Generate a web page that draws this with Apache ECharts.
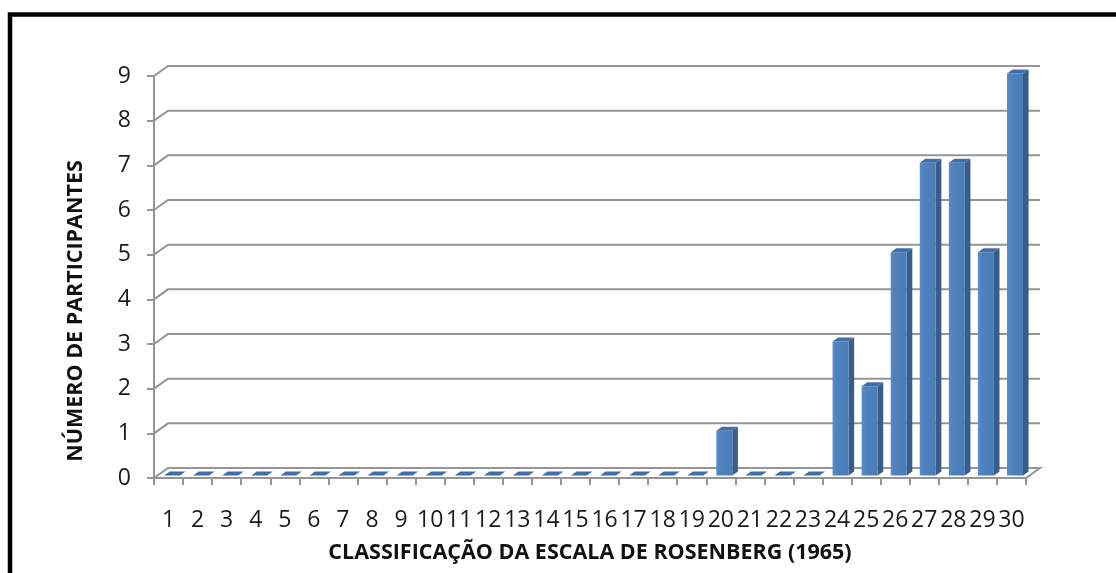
<!DOCTYPE html>
<html>
<head>
<meta charset="utf-8">
<title>Escala de Rosenberg</title>
<script src="https://cdn.jsdelivr.net/npm/echarts@6/dist/echarts.min.js"></script>
<style>
  html, body { margin: 0; padding: 0; background: #ffffff; }
  #chart { width: 1116px; height: 573px; }
</style>
</head>
<body>
<div id="chart"></div>
<script>
// Scores on the Rosenberg scale (1..30) and how many participants got each one
const categories = ['1','2','3','4','5','6','7','8','9','10','11','12','13','14','15',
                    '16','17','18','19','20','21','22','23','24','25','26','27','28','29','30'];
const participants = [0,0,0,0,0,0,0,0,0,0,0,0,0,0,0,0,0,0,0,1,0,0,0,3,2,5,7,7,5,9];
const yTicks = [0,1,2,3,4,5,6,7,8,9];

const xTitle = 'CLASSIFICAÇÃO DA ESCALA DE ROSENBERG (1965)';
const yTitle = 'NÚMERO DE PARTICIPANTES';

// depth of the pseudo-3D floor / back wall, in pixels
const DX = 14, DY = 10;
const GRID_COLOR = '#959595';
const FONT = '"Open Sans", "Liberation Sans", sans-serif';

const chart = echarts.init(document.getElementById('chart'), null, { renderer: 'canvas' });

// back-wall gridlines with their side-wall diagonals, plus the floor
function renderWall(params, api) {
  const cs = params.coordSys;
  const v = api.value(1);
  const y = api.coord([0, v])[1];
  const x0 = cs.x, x1 = cs.x + cs.width;
  if (v === 0) {
    return {
      type: 'polygon',
      shape: { points: [[x0, y], [x0 + DX, y - DY], [x1 + DX, y - DY], [x1, y]] },
      style: { fill: '#ffffff', stroke: GRID_COLOR, lineWidth: 2 }
    };
  }
  return {
    type: 'polyline',
    shape: { points: [[x0, y], [x0 + DX, y - DY], [x1 + DX, y - DY]] },
    style: { fill: null, stroke: GRID_COLOR, lineWidth: 2 }
  };
}

// one 3D column: front face, right side and top
function renderColumn(params, api) {
  const idx = api.value(0);
  const val = api.value(1);
  const base = api.coord([idx, 0]);
  const top = api.coord([idx, val]);
  const w = api.size([1, 0])[0] * 0.55;
  const f1 = 0.25, f2 = 0.65;
  const ox = DX * f1, oy = -DY * f1;
  const ddx = DX * (f2 - f1), ddy = -DY * (f2 - f1);
  const xl = base[0] - w / 2 + ox, xr = xl + w;
  const yb = base[1] + oy, yt = top[1] + oy;
  const children = [];
  if (yb - yt > 0.5) {
    children.push({
      type: 'polygon',
      shape: { points: [[xr, yt], [xr + ddx, yt + ddy], [xr + ddx, yb + ddy], [xr, yb]] },
      style: { fill: '#385D8A' }
    });
    children.push({
      type: 'rect',
      shape: { x: xl, y: yt, width: w, height: yb - yt },
      style: {
        fill: new echarts.graphic.LinearGradient(0, 0, 1, 0, [
          { offset: 0, color: '#5B8DCA' },
          { offset: 0.25, color: '#4F81BD' },
          { offset: 1, color: '#4A7CB8' }
        ])
      }
    });
  }
  children.push({
    type: 'polygon',
    shape: { points: [[xl, yt], [xr, yt], [xr + ddx, yt + ddy], [xl + ddx, yt + ddy]] },
    style: { fill: '#3F6EA8' }
  });
  return { type: 'group', children: children };
}

const option = {
  backgroundColor: '#ffffff',
  animation: false,
  grid: { left: 154, right: 90, top: 76, bottom: 95, containLabel: false },
  xAxis: {
    type: 'category',
    data: categories,
    boundaryGap: true,
    name: xTitle,
    nameLocation: 'middle',
    nameGap: 64,
    nameTextStyle: { fontFamily: FONT, fontWeight: 'bold', fontSize: 21.5, color: '#111111' },
    axisLine: { show: true, lineStyle: { color: GRID_COLOR, width: 2 } },
    axisTick: { show: true, length: 7, lineStyle: { color: GRID_COLOR, width: 2 } },
    axisLabel: { interval: 0, margin: 31, fontFamily: FONT, fontSize: 23, color: '#1a1a1a' },
    splitLine: { show: false }
  },
  yAxis: {
    type: 'value',
    min: 0,
    max: 9,
    interval: 1,
    axisLine: { show: true, lineStyle: { color: GRID_COLOR, width: 2 } },
    axisTick: { show: true, length: 7, lineStyle: { color: GRID_COLOR, width: 2 } },
    axisLabel: { margin: 23, fontFamily: FONT, fontSize: 23, color: '#1a1a1a' },
    splitLine: { show: false }
  },
  graphic: [
    {
      type: 'rect',
      silent: true,
      z: 100,
      shape: { x: 10, y: 14.5, width: 1200, height: 700 },
      style: { fill: null, stroke: '#000000', lineWidth: 4.5 }
    },
    {
      type: 'text',
      silent: true,
      x: 76,
      y: 311,
      rotation: Math.PI / 2,
      style: {
        text: yTitle,
        fontFamily: FONT,
        fontWeight: 'bold',
        fontSize: 21.5,
        fill: '#111111',
        align: 'center',
        verticalAlign: 'middle'
      }
    }
  ],
  series: [
    {
      type: 'custom',
      silent: true,
      z: 1,
      renderItem: renderWall,
      data: yTicks.map(function (v) { return [0, v]; })
    },
    {
      type: 'custom',
      silent: true,
      z: 2,
      renderItem: renderColumn,
      data: participants.map(function (v, i) { return [i, v]; })
    }
  ]
};

chart.setOption(option);
</script>
</body>
</html>
